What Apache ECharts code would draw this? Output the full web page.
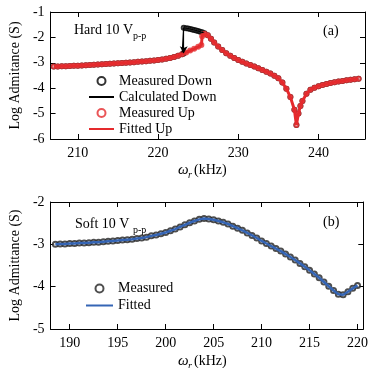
<!DOCTYPE html>
<html>
<head>
<meta charset="utf-8">
<script src="https://cdn.jsdelivr.net/npm/echarts@6/dist/echarts.min.js"></script>
<style>
html,body{margin:0;padding:0;background:#fff}
#chart{width:371px;height:368px}
</style>
</head>
<body>
<div id="chart"></div>
<script>
// (a) hard, 10 Vp-p : up sweep
var upFreq = [207,207.5,208,208.5,209,209.5,210,210.5,211,211.5,212,212.5,213,213.5,214,214.5,215,215.5,216,216.5,
    217,217.5,218,218.5,219,219.5,220,220.5,221,221.5,222,222.5,223,223.5,224,224.5,225,225.4,225.5,225.8,
    226.2,226.6,227,227.5,228,228.5,229,229.5,230,230.5,231,231.5,232,232.5,233,233.5,234,234.5,235,235.5,
    236,236.5,237,237.25,237.5,237.75,238,238.5,239,239.5,240,240.5,241,241.5,242,242.5,243,243.5,244,244.5,245];
var upLog = [-3.15,-3.15,-3.14,-3.14,-3.13,-3.12,-3.12,-3.11,-3.10,-3.09,-3.08,-3.07,-3.06,-3.05,-3.04,-3.03,-3.02,-3.01,-3.00,-2.99,
    -2.98,-2.96,-2.95,-2.94,-2.92,-2.91,-2.89,-2.87,-2.84,-2.81,-2.77,-2.72,-2.66,-2.59,-2.52,-2.45,-2.37,-2.30,-1.95,-1.86,
    -1.92,-2.05,-2.20,-2.36,-2.50,-2.62,-2.72,-2.81,-2.89,-2.96,-3.03,-3.09,-3.15,-3.21,-3.28,-3.35,-3.42,-3.51,-3.61,-3.78,
    -4.02,-4.35,-4.85,-5.45,-5.00,-4.70,-4.50,-4.22,-4.06,-3.98,-3.92,-3.87,-3.83,-3.80,-3.77,-3.74,-3.72,-3.69,-3.67,-3.65,-3.63];
// (a) down sweep: upper branch before the jump
var branchFreq = [223.2,223.2,223.5,223.75,224,224.25,224.5,224.75,225,225.25,225.5,225.8];
var branchLog = [-2.63,-1.62,-1.64,-1.65,-1.67,-1.69,-1.71,-1.73,-1.75,-1.78,-1.80,-1.84];
var jumpFreq = 223.2, jumpFrom = -1.62, jumpTo = -2.62;

// (b) soft, 10 Vp-p
var softFreq = [188.5,189,189.5,190,190.5,191,191.5,192,192.5,193,193.5,194,194.5,195,195.5,196,196.5,197,197.5,198,
    198.5,199,199.5,200,200.5,201,201.5,202,202.5,203,203.5,204,204.5,205,205.5,206,206.5,207,207.5,208,
    208.5,209,209.5,210,210.5,211,211.5,212,212.5,213,213.5,214,214.5,215,215.5,216,216.5,217,217.5,218,
    218.5,219,219.5,220];
var softMeasured = [-3.00,-2.99,-2.99,-2.98,-2.98,-2.97,-2.97,-2.96,-2.95,-2.95,-2.94,-2.93,-2.92,-2.91,-2.90,-2.89,-2.88,-2.86,-2.85,-2.83,
    -2.80,-2.78,-2.75,-2.72,-2.68,-2.64,-2.59,-2.54,-2.49,-2.45,-2.41,-2.39,-2.40,-2.42,-2.45,-2.48,-2.52,-2.57,-2.62,-2.67,
    -2.73,-2.79,-2.85,-2.92,-2.98,-3.04,-3.10,-3.16,-3.23,-3.30,-3.37,-3.45,-3.53,-3.61,-3.70,-3.79,-3.89,-3.99,-4.09,-4.18,
    -4.19,-4.12,-4.04,-3.97];
var softFitted = softMeasured;

var ticksA = [210,220,230,240];
var ticksB = [190,195,200,205,210,215,220];

function zip(xs, ys){ return xs.map(function(x,i){ return [x, ys[i]]; }); }

var upPts = zip(upFreq, upLog);
var downPts = upPts.filter(function(p){ return p[0] <= 223; })
    .concat(zip(branchFreq, branchLog))
    .concat(upPts.filter(function(p){ return p[0] >= 226.2; }));

var FONT = 'Liberation Serif';
var RED = '#e52a2d', BLUE = '#3565b5';

function xAx(grid, min, max, ticks, top){
    return {
        type:'value', gridIndex:grid, min:min, max:max, position: top ? 'top' : 'bottom',
        axisLine:{show:true, onZero:false, lineStyle:{color:'#000', width:1}},
        axisTick:{show:true, inside:true, length:5, customValues:ticks, lineStyle:{color:'#000'}},
        axisLabel:{show:!top, customValues:ticks, margin:7, color:'#000', fontFamily:FONT, fontSize:14},
        splitLine:{show:false}
    };
}
function yAx(grid, min, max, right, name){
    return {
        type:'value', gridIndex:grid, min:min, max:max, interval:1, position: right ? 'right' : 'left',
        name: right ? '' : name, nameLocation:'middle', nameGap:24,
        nameTextStyle:{color:'#000', fontFamily:FONT, fontSize:14},
        axisLine:{show:true, onZero:false, lineStyle:{color:'#000', width:1}},
        axisTick:{show:true, inside:true, length:5, lineStyle:{color:'#000'}},
        axisLabel:{show:!right, margin:6, color:'#000', fontFamily:FONT, fontSize:14},
        splitLine:{show:false}
    };
}
function txt(x, y, s, size, italic){
    return {type:'text', left:x, top:y, silent:true,
        style:{text:s, fill:'#000', font:(italic ? 'italic ' : '') + size + 'px "' + FONT + '"'}};
}
var noDot = {opacity:0};

var chart = echarts.init(document.getElementById('chart'));
chart.setOption({
    animation:false,
    backgroundColor:'#fff',
    grid:[
        {left:49, top:12, width:316, height:127},
        {left:49, top:202, width:316, height:127}
    ],
    xAxis:[
        xAx(0, 206.6, 245.8, ticksA, false),
        xAx(0, 206.6, 245.8, ticksA, true),
        xAx(1, 188, 220.6, ticksB, false),
        xAx(1, 188, 220.6, ticksB, true)
    ],
    yAxis:[
        yAx(0, -6, -1, false, 'Log Admitance (S)'),
        yAx(0, -6, -1, true),
        yAx(1, -5, -2, false, 'Log Admittance (S)'),
        yAx(1, -5, -2, true)
    ],
    legend:[
        {left:83, top:68, orient:'vertical', itemWidth:25, itemHeight:8, itemGap:0, selectedMode:false,
         itemStyle:{borderWidth:1},
         textStyle:{color:'#000', fontFamily:FONT, fontSize:14, lineHeight:16},
         data:[{name:'Measured Down', icon:'emptyCircle'}, {name:'Calculated Down', itemStyle:noDot},
               {name:'Measured Up', icon:'emptyCircle'}, {name:'Fitted Up', itemStyle:noDot}]},
        {left:80, top:275, orient:'vertical', itemWidth:27, itemHeight:8, itemGap:0, selectedMode:false,
         itemStyle:{borderWidth:1},
         textStyle:{color:'#000', fontFamily:FONT, fontSize:14, lineHeight:17},
         data:[{name:'Measured', icon:'emptyCircle'}, {name:'Fitted', itemStyle:noDot}]}
    ],
    graphic:[
        txt(74, 23, 'Hard 10 V', 14), txt(133, 31, 'p-p', 10),
        txt(323, 24, '(a)', 14),
        txt(75, 217, 'Soft 10 V', 14), txt(133, 225, 'p-p', 10),
        txt(323, 215, '(b)', 14),
        txt(178, 163, 'ω', 15, true), txt(188, 170, 'r', 10, true), txt(194, 163, '(kHz)', 14),
        txt(178, 354, 'ω', 15, true), txt(188, 361, 'r', 10, true), txt(194, 354, '(kHz)', 14)
    ],
    series:[
        {name:'Measured Down', type:'scatter', xAxisIndex:0, yAxisIndex:0, data:downPts,
         symbol:'emptyCircle', symbolSize:4, itemStyle:{color:'#000', borderColor:'#000', borderWidth:1}},
        {name:'Calculated Down', type:'line', xAxisIndex:0, yAxisIndex:0, data:downPts,
         symbol:'none', lineStyle:{color:'#000', width:1.2}, itemStyle:{color:'#000'},
         markLine:{silent:true, symbol:['none','arrow'], symbolSize:[6,7], label:{show:false},
            lineStyle:{color:'#000', width:1.2, type:'solid'},
            data:[[{coord:[jumpFreq, jumpFrom]}, {coord:[jumpFreq, jumpTo]}]]}},
        {name:'Measured Up', type:'scatter', xAxisIndex:0, yAxisIndex:0, data:upPts,
         symbol:'emptyCircle', symbolSize:4, itemStyle:{color:RED, borderColor:RED, borderWidth:1}},
        {name:'Fitted Up', type:'line', xAxisIndex:0, yAxisIndex:0, data:upPts,
         symbol:'none', lineStyle:{color:RED, width:3}, itemStyle:{color:RED}},
        {name:'Measured', type:'scatter', xAxisIndex:2, yAxisIndex:2, data:zip(softFreq, softMeasured),
         symbol:'emptyCircle', symbolSize:5, itemStyle:{color:'#222', borderColor:'#222', borderWidth:1}},
        {name:'Fitted', type:'line', xAxisIndex:2, yAxisIndex:2, data:zip(softFreq, softFitted),
         symbol:'none', lineStyle:{color:BLUE, width:2.5}, itemStyle:{color:BLUE}}
    ]
});
</script>
</body>
</html>
